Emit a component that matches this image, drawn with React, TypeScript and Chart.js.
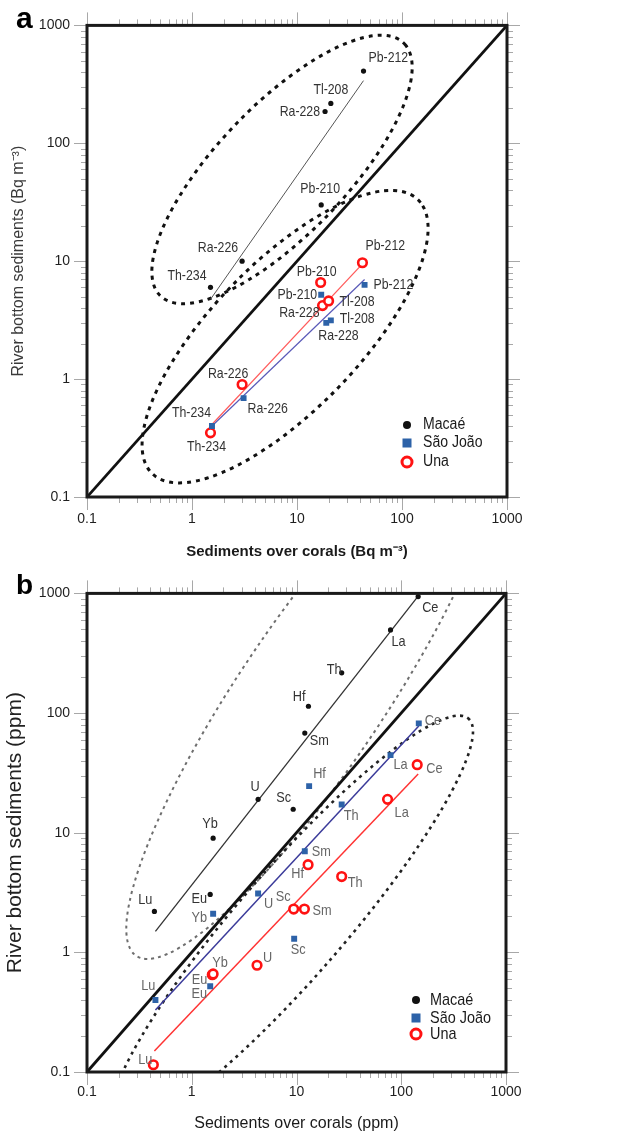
import React, { useEffect, useRef } from 'react';
import { Chart, registerables } from 'chart.js';

Chart.register(...registerables);

const FONT = "'Liberation Sans', Arial, Helvetica, sans-serif";

// ---------- axes ----------
const decadeTicks = [0.1, 1, 10, 100, 1000];
const minorMultipliers = [1, 2, 3, 4, 5, 6, 7, 8, 9];

// ---------- Panel a (radionuclides) ----------
const nuclidesA = ['Th-234', 'Ra-226', 'Pb-210', 'Ra-228', 'Tl-208', 'Pb-212'];
const macaeA_x = [1.5, 3.0, 17, 18.5, 21, 43];
const macaeA_y = [6.0, 10, 30, 186, 218, 410];
const saoJoaoA_x = [1.55, 3.1, 17, 19, 21, 44];
const saoJoaoA_y = [0.4, 0.69, 5.2, 3.0, 3.15, 6.3];
const unaA_x = [1.5, 3.0, 16.8, 17.5, 20, 42];
const unaA_y = [0.35, 0.9, 6.6, 4.2, 4.6, 9.7];
const macaeA_fit_x = [1.5, 43];
const macaeA_fit_y = [4.75, 340];
const saoJoaoA_fit_x = [1.55, 44];
const saoJoaoA_fit_y = [0.4, 7.0];
const unaA_fit_x = [1.5, 42];
const unaA_fit_y = [0.4, 9.5];

// ---------- Panel b (elements) ----------
const elementsB = ['Lu', 'Eu', 'Yb', 'U', 'Sc', 'Sm', 'Hf', 'Th', 'La', 'Ce'];
const macaeB_x = [0.44, 1.5, 1.6, 4.3, 9.3, 12, 13, 27, 79, 145];
const macaeB_y = [2.2, 3.05, 9.0, 19, 15.7, 68, 114, 217, 495, 940];
const saoJoaoB_x = [0.45, 1.5, 1.6, 4.3, 9.5, 12, 13.2, 27, 79, 147];
const saoJoaoB_y = [0.4, 0.52, 2.1, 3.1, 1.3, 7.0, 24.5, 17.2, 44.5, 82];
const unaB_x = [0.43, 1.57, 1.6, 4.2, 9.4, 11.9, 12.9, 27, 74, 142];
const unaB_y = [0.115, 0.65, 0.66, 0.78, 2.3, 2.3, 5.4, 4.3, 19, 37];
const macaeB_fit_x = [0.45, 145];
const macaeB_fit_y = [1.5, 950];
const saoJoaoB_fit_x = [0.45, 147];
const saoJoaoB_fit_y = [0.33, 78];
const unaB_fit_x = [0.44, 145];
const unaB_fit_y = [0.15, 31];

const seriesNames = ['Macaé', 'São João', 'Una'];
const oneToOne = [0.1, 1000];

// ---------- annotation layout (label offsets in px, ellipses in decades) ----------
type Off = [number, number, CanvasTextAlign];
const macaeA_lbl: Off[] = [[-4, -11, 'right'], [-4, -13, 'right'], [-1, -16, 'center'], [-5, 0, 'right'], [0, -14, 'center'], [5, -13, 'left']];
const saoJoaoA_lbl: Off[] = [[-1, -13, 'right'], [4, 11, 'left'], [-4, 0, 'right'], [-8, 13, 'left'], [9, -1, 'left'], [9, 0, 'left']];
const unaA_lbl: Off[] = [[-4, 14, 'center'], [-14, -11, 'center'], [-4, -11, 'center'], [-3, 7, 'right'], [11, 1, 'left'], [3, -17, 'left']];

const macaeB_lbl: Off[] = [[-2, -12, 'right'], [-3, 4, 'right'], [-3, -14, 'center'], [-3, -12, 'center'], [-2, -11, 'right'], [5, 8, 'left'], [-3, -9, 'right'], [0, -3, 'right'], [1, 12, 'left'], [4, 11, 'left']];
const saoJoaoB_lbl: Off[] = [[0, -14, 'right'], [-3, 8, 'right'], [-6, 4, 'right'], [6, 10, 'left'], [4, 11, 'center'], [7, 1, 'left'], [4, -12, 'left'], [2, 11, 'left'], [3, 10, 'left'], [6, -3, 'left']];
const unaB_lbl: Off[] = [[-1, -5, 'right'], [-5, 5, 'right'], [-1, -11, 'left'], [6, -7, 'left'], [-3, -12, 'right'], [8, 2, 'left'], [-4, 9, 'right'], [6, 6, 'left'], [7, 14, 'left'], [9, 4, 'left']];

type Ell = { cx: number; cy: number; a: number; b: number; angle: number; color: string; width: number; dash: number[] };
const ellipsesA: Ell[] = [
  { cx: 7.2, cy: 60, a: 1.58, b: 0.58, angle: 41.8, color: '#111', width: 3, dash: [4, 5] },
  { cx: 7.7, cy: 2.29, a: 1.72, b: 0.66, angle: 41.4, color: '#111', width: 3, dash: [4, 5] },
];
const ellipsesB: Ell[] = [
  { cx: 14.0, cy: 141, a: 2.75, b: 0.66, angle: 52, color: '#6e6e6e', width: 2, dash: [3, 4] },
  { cx: 9.0, cy: 1.77, a: 2.4, b: 0.48, angle: 45, color: '#222', width: 2.6, dash: [3, 4.5] },
];

const COLORS = {
  macae: '#111111',
  sj: '#2d62a8',
  una: '#ff1212',
};

function tickValues() {
  const out: number[] = [];
  for (const d of decadeTicks) {
    for (const m of minorMultipliers) {
      const v = +(d * m).toPrecision(6);
      if (v <= 1000) out.push(v);
    }
  }
  return out;
}
function isDecade(v: number) {
  return decadeTicks.some((d) => Math.abs(d - v) < d * 1e-9);
}
const pts = (xs: number[], ys: number[]) => xs.map((x, i) => ({ x, y: ys[i] }));

type SeriesCfg = {
  name: string;
  style: 'dot' | 'square' | 'ring';
  xs: number[];
  ys: number[];
  names: string[];
  offsets: Off[];
  labelColor: string;
  fitX: number[];
  fitY: number[];
  fitColor: string;
  fitWidth: number;
};

type PanelCfg = {
  letter: string;
  letterSize: number;
  letterBaseline: number;
  series: SeriesCfg[];
  ellipses: Ell[];
  padTop: number;
  padRight: number;
  xHeight: number;
  xTickPad: number;
  xTitle: string;
  xTitleFont: { size: number; weight: string };
  xTitlePadBottom: number;
  yTitle: string;
  yTitleSize: number;
  yTitleColor: string;
  yTitlePadTop: number;
  labelFont: number;
  labelScale: number;
  legendX: number;
  legendRows: number[];
  legendFont: number;
  legendScale: number;
  legendTextDx: number;
};

function drawScaledText(ctx: CanvasRenderingContext2D, text: string, x: number, y: number, align: CanvasTextAlign, font: string, color: string, sx: number) {
  ctx.save();
  ctx.translate(x, y);
  ctx.scale(sx, 1);
  ctx.font = font;
  ctx.fillStyle = color;
  ctx.textAlign = align;
  ctx.textBaseline = 'middle';
  ctx.fillText(text, 0, 0);
  ctx.restore();
}

function makePlugin(p: PanelCfg) {
  return {
    id: 'panelDecor' + p.letter,
    beforeDatasetsDraw(chart: any) {
      const { ctx, chartArea, scales } = chart;
      const sx = scales.x.getPixelForValue(10) - scales.x.getPixelForValue(1);
      const sy = scales.y.getPixelForValue(10) - scales.y.getPixelForValue(1);
      ctx.save();
      ctx.beginPath();
      ctx.rect(chartArea.left, chartArea.top, chartArea.right - chartArea.left, chartArea.bottom - chartArea.top);
      ctx.clip();
      for (const e of p.ellipses) {
        const cx = scales.x.getPixelForValue(e.cx);
        const cy = scales.y.getPixelForValue(e.cy);
        ctx.beginPath();
        ctx.save();
        ctx.translate(cx, cy);
        ctx.scale(sx, sy);
        ctx.rotate((e.angle * Math.PI) / 180);
        ctx.ellipse(0, 0, e.a, e.b, 0, 0, Math.PI * 2);
        ctx.restore();
        ctx.setLineDash(e.dash);
        ctx.lineWidth = e.width;
        ctx.strokeStyle = e.color;
        ctx.stroke();
      }
      ctx.restore();
    },
    afterDatasetsDraw(chart: any) {
      const { ctx, scales } = chart;
      const font = `${p.labelFont}px ${FONT}`;
      for (const s of p.series) {
        s.names.forEach((n, i) => {
          const [dx, dy, al] = s.offsets[i];
          const x = scales.x.getPixelForValue(s.xs[i]) + dx;
          const y = scales.y.getPixelForValue(s.ys[i]) + dy;
          drawScaledText(ctx, n, x, y, al, font, s.labelColor, p.labelScale);
        });
      }
    },
    afterDraw(chart: any) {
      const { ctx, chartArea, scales } = chart;
      const { left, right, top, bottom } = chartArea;
      ctx.save();
      ctx.strokeStyle = '#a8a8a8';
      ctx.lineWidth = 1;
      ctx.setLineDash([]);
      for (const t of scales.x.ticks) {
        const px = Math.round(scales.x.getPixelForValue(t.value)) + 0.5;
        const len = isDecade(t.value) ? 13 : 6;
        ctx.beginPath();
        ctx.moveTo(px, bottom);
        ctx.lineTo(px, bottom + len);
        ctx.moveTo(px, top);
        ctx.lineTo(px, top - len);
        ctx.stroke();
      }
      for (const t of scales.y.ticks) {
        const py = Math.round(scales.y.getPixelForValue(t.value)) + 0.5;
        const len = isDecade(t.value) ? 13 : 6;
        ctx.beginPath();
        ctx.moveTo(left, py);
        ctx.lineTo(left - len, py);
        ctx.moveTo(right, py);
        ctx.lineTo(right + len, py);
        ctx.stroke();
      }
      ctx.strokeStyle = '#1a1a1a';
      ctx.lineWidth = 3;
      ctx.strokeRect(left, top, right - left, bottom - top);
      const lx = right + p.legendX;
      p.series.forEach((s, i) => {
        const ly = bottom + p.legendRows[i];
        if (s.style === 'dot') {
          ctx.beginPath();
          ctx.arc(lx, ly, 4, 0, Math.PI * 2);
          ctx.fillStyle = COLORS.macae;
          ctx.fill();
        } else if (s.style === 'square') {
          ctx.fillStyle = COLORS.sj;
          ctx.fillRect(lx - 4.5, ly - 4.5, 9, 9);
        } else {
          ctx.beginPath();
          ctx.arc(lx, ly, 5, 0, Math.PI * 2);
          ctx.fillStyle = '#fff';
          ctx.fill();
          ctx.lineWidth = 3;
          ctx.strokeStyle = COLORS.una;
          ctx.stroke();
        }
        drawScaledText(ctx, s.name, lx + p.legendTextDx, ly, 'left', `${p.legendFont}px ${FONT}`, '#1a1a1a', p.legendScale);
      });
      ctx.font = `bold ${p.letterSize}px ${FONT}`;
      ctx.fillStyle = '#000';
      ctx.textAlign = 'left';
      ctx.textBaseline = 'alphabetic';
      ctx.fillText(p.letter, 16, p.letterBaseline);
      ctx.restore();
    },
  };
}

function buildConfig(p: PanelCfg): any {
  const datasets: any[] = [];
  for (const s of p.series) {
    const base: any = { label: s.name, data: pts(s.xs, s.ys), showLine: false };
    if (s.style === 'dot') {
      Object.assign(base, { pointStyle: 'circle', pointRadius: 2.6, backgroundColor: COLORS.macae, borderColor: COLORS.macae, borderWidth: 0 });
    } else if (s.style === 'square') {
      Object.assign(base, { pointStyle: 'rect', pointRadius: 4.2, backgroundColor: COLORS.sj, borderColor: COLORS.sj, borderWidth: 0 });
    } else {
      Object.assign(base, { pointStyle: 'circle', pointRadius: 4.3, backgroundColor: '#ffffff', borderColor: COLORS.una, borderWidth: 2.6 });
    }
    datasets.push(base);
  }
  for (const s of p.series) {
    datasets.push({
      label: s.name + ' fit',
      data: pts(s.fitX, s.fitY),
      showLine: true,
      pointRadius: 0,
      borderColor: s.fitColor,
      borderWidth: s.fitWidth,
      fill: false,
    });
  }
  datasets.push({
    label: '1:1',
    data: pts(oneToOne, oneToOne),
    showLine: true,
    pointRadius: 0,
    borderColor: '#111',
    borderWidth: 2.8,
    fill: false,
  });
  const ticksList = tickValues();
  const tickFont = { family: FONT, size: 14 };
  return {
    type: 'scatter',
    data: { datasets },
    plugins: [makePlugin(p)],
    options: {
      animation: false,
      responsive: false,
      events: [],
      layout: { padding: { top: p.padTop, right: p.padRight, left: 0, bottom: 0 } },
      plugins: { legend: { display: false }, tooltip: { enabled: false } },
      scales: {
        x: {
          type: 'logarithmic',
          position: 'bottom',
          min: 0.1,
          max: 1000,
          afterBuildTicks: (s: any) => {
            s.ticks = ticksList.map((v) => ({ value: v }));
          },
          afterFit: (s: any) => {
            s.height = p.xHeight;
          },
          grid: { display: false, drawTicks: false },
          border: { display: false },
          ticks: {
            autoSkip: false,
            maxRotation: 0,
            padding: p.xTickPad,
            color: '#1f1f1f',
            font: tickFont,
            callback: (v: any) => (isDecade(Number(v)) ? String(Number(v)) : ''),
          },
          title: {
            display: true,
            text: p.xTitle,
            color: '#1a1a1a',
            font: { family: FONT, size: p.xTitleFont.size, weight: p.xTitleFont.weight },
            padding: { top: 0, bottom: p.xTitlePadBottom },
          },
        },
        y: {
          type: 'logarithmic',
          position: 'left',
          min: 0.1,
          max: 1000,
          afterBuildTicks: (s: any) => {
            s.ticks = ticksList.map((v) => ({ value: v }));
          },
          afterFit: (s: any) => {
            s.width = 87;
          },
          grid: { display: false, drawTicks: false },
          border: { display: false },
          ticks: {
            autoSkip: false,
            padding: 17,
            color: '#1f1f1f',
            font: tickFont,
            callback: (v: any) => (isDecade(Number(v)) ? String(Number(v)) : ''),
          },
          title: {
            display: true,
            text: p.yTitle,
            color: p.yTitleColor,
            font: { family: FONT, size: p.yTitleSize },
            padding: { top: p.yTitlePadTop, bottom: 0 },
          },
        },
      },
    },
  };
}

const panelA: PanelCfg = {
  letter: 'a',
  letterSize: 30,
  letterBaseline: 28,
  series: [
    { name: seriesNames[0], style: 'dot', xs: macaeA_x, ys: macaeA_y, names: nuclidesA, offsets: macaeA_lbl, labelColor: '#333', fitX: macaeA_fit_x, fitY: macaeA_fit_y, fitColor: '#555', fitWidth: 1 },
    { name: seriesNames[1], style: 'square', xs: saoJoaoA_x, ys: saoJoaoA_y, names: nuclidesA, offsets: saoJoaoA_lbl, labelColor: '#333', fitX: saoJoaoA_fit_x, fitY: saoJoaoA_fit_y, fitColor: '#5a5ab8', fitWidth: 1.2 },
    { name: seriesNames[2], style: 'ring', xs: unaA_x, ys: unaA_y, names: nuclidesA, offsets: unaA_lbl, labelColor: '#333', fitX: unaA_fit_x, fitY: unaA_fit_y, fitColor: '#ff5a5a', fitWidth: 1.2 },
  ],
  ellipses: ellipsesA,
  padTop: 20,
  padRight: 124,
  xHeight: 71,
  xTickPad: 14,
  xTitle: 'Sediments over corals (Bq m⁻³)',
  xTitleFont: { size: 15, weight: 'bold' },
  xTitlePadBottom: 7,
  yTitle: 'River bottom sediments (Bq m⁻³)',
  yTitleSize: 16,
  yTitleColor: '#3a3a3a',
  yTitlePadTop: 9,
  labelFont: 15,
  labelScale: 0.82,
  legendX: -100,
  legendRows: [-72, -54, -35],
  legendFont: 16,
  legendScale: 0.88,
  legendTextDx: 16,
};

const panelB: PanelCfg = {
  letter: 'b',
  letterSize: 28,
  letterBaseline: 26,
  series: [
    { name: seriesNames[0], style: 'dot', xs: macaeB_x, ys: macaeB_y, names: elementsB, offsets: macaeB_lbl, labelColor: '#333', fitX: macaeB_fit_x, fitY: macaeB_fit_y, fitColor: '#333', fitWidth: 1.3 },
    { name: seriesNames[1], style: 'square', xs: saoJoaoB_x, ys: saoJoaoB_y, names: elementsB, offsets: saoJoaoB_lbl, labelColor: '#666', fitX: saoJoaoB_fit_x, fitY: saoJoaoB_fit_y, fitColor: '#3b3b9a', fitWidth: 1.5 },
    { name: seriesNames[2], style: 'ring', xs: unaB_x, ys: unaB_y, names: elementsB, offsets: unaB_lbl, labelColor: '#666', fitX: unaB_fit_x, fitY: unaB_fit_y, fitColor: '#ff3333', fitWidth: 1.5 },
  ],
  ellipses: ellipsesB,
  padTop: 21,
  padRight: 125,
  xHeight: 64,
  xTickPad: 12,
  xTitle: 'Sediments over corals (ppm)',
  xTitleFont: { size: 16, weight: 'normal' },
  xTitlePadBottom: 3,
  yTitle: 'River bottom sediments (ppm)',
  yTitleSize: 21,
  yTitleColor: '#222',
  yTitlePadTop: 3,
  labelFont: 15,
  labelScale: 0.85,
  legendX: -90,
  legendRows: [-72, -54, -38],
  legendFont: 17,
  legendScale: 0.85,
  legendTextDx: 14,
};

export default function App() {
  const refA = useRef<HTMLCanvasElement>(null);
  const refB = useRef<HTMLCanvasElement>(null);
  useEffect(() => {
    const a = new Chart(refA.current as HTMLCanvasElement, buildConfig(panelA));
    const b = new Chart(refB.current as HTMLCanvasElement, buildConfig(panelB));
    return () => {
      a.destroy();
      b.destroy();
    };
  }, []);
  return (
    <div style={{ position: 'absolute', left: 0, top: 0, width: 631, height: 1136, background: '#fff' }}>
      <canvas ref={refA} width={631} height={568} style={{ position: 'absolute', left: 0, top: 0, width: 631, height: 568 }} />
      <canvas ref={refB} width={631} height={568} style={{ position: 'absolute', left: 0, top: 568, width: 631, height: 568 }} />
    </div>
  );
}
